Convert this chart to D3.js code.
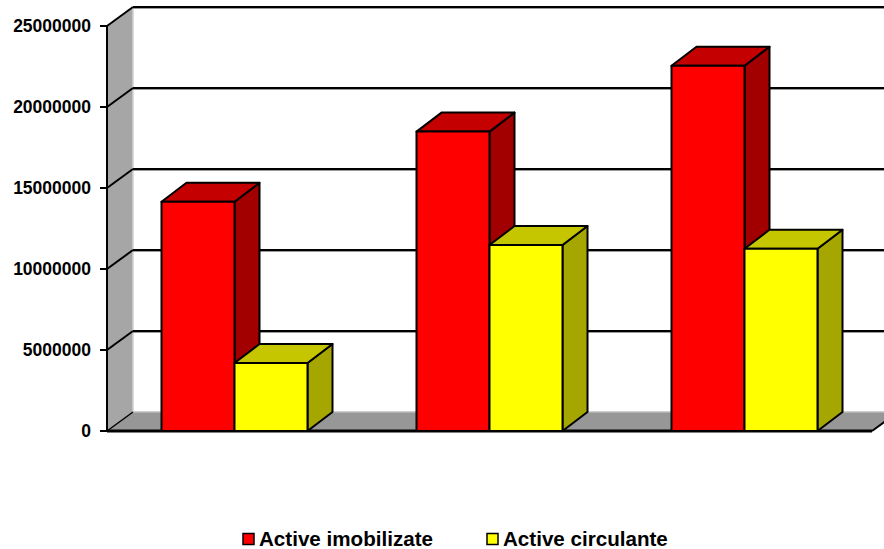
<!DOCTYPE html>
<html>
<head>
<meta charset="utf-8">
<script src="https://cdn.jsdelivr.net/npm/d3@7/dist/d3.min.js"></script>
<style>
  html, body { margin: 0; padding: 0; background: #fff; }
  svg { display: block; font-family: Arial, "Liberation Sans", sans-serif; }
</style>
</head>
<body>
<svg id="chart" width="884" height="549"></svg>
<script>
// Data
const categories = ["Anul 1", "Anul 2", "Anul 3"];
const seriesNames = ["Active imobilizate", "Active circulante"];
const activeImobilizate = [14150000, 18480000, 22550000];
const activeCirculante = [4200000, 11480000, 11250000];
const yTicks = [0, 5000000, 10000000, 15000000, 20000000, 25000000];

// Colours per series: front, top, side
const palette = [
  { front: "#FF0000", top: "#C40000", side: "#A20000", key: "#FF0000" },
  { front: "#FFFF00", top: "#C6C600", side: "#A6A600", key: "#FFFF00" }
];

const svg = d3.select("#chart");

// Geometry of the 3D box
const left = 107, right = 872, base = 431, topY = 26;
const dx = 26, dy = -19;       // depth offset of the back wall
const bdx = 25, bdy = -19;     // depth offset of a bar

const y = d3.scaleLinear().domain([0, 25000000]).range([base, topY]);
const x0 = d3.scaleBand().domain(categories).range([left, right]);
const barW = 73;
const x1 = d3.scaleBand().domain(seriesNames)
  .range([x0.bandwidth() / 2 - barW, x0.bandwidth() / 2 + barW]);

const rows = categories.map((c, i) => ({
  cat: c,
  vals: [activeImobilizate[i], activeCirculante[i]]
}));

const line = d3.line();

// Left side wall
svg.append("path")
  .attr("d", line([[left, base], [left, y(25000000)], [left + dx, y(25000000) + dy], [left + dx, base + dy]]) + "Z")
  .attr("fill", "#A6A6A6");
svg.append("line")
  .attr("x1", left + dx).attr("x2", left + dx)
  .attr("y1", y(25000000) + dy).attr("y2", base + dy)
  .attr("stroke", "#D0D0D0").attr("stroke-width", 1.5);

// Floor
svg.append("path")
  .attr("d", line([[left, base], [right, base], [right + dx, base + dy], [left + dx, base + dy]]) + "Z")
  .attr("fill", "#979797");
svg.append("line")
  .attr("x1", left + dx).attr("x2", 900)
  .attr("y1", base + dy).attr("y2", base + dy)
  .attr("stroke", "#BDBDBD").attr("stroke-width", 1.5);

// Gridlines: back wall and side wall
const gridTicks = yTicks.filter(t => t > 0);
const grid = svg.append("g");
gridTicks.forEach(t => {
  const yy = y(t);
  grid.append("line")
    .attr("x1", left + dx).attr("x2", 900)
    .attr("y1", yy + dy + 1.5).attr("y2", yy + dy + 1.5)
    .attr("stroke", "#9a9a9a").attr("stroke-width", 1);
  grid.append("line")
    .attr("x1", left + dx).attr("x2", 900)
    .attr("y1", yy + dy).attr("y2", yy + dy)
    .attr("stroke", "#000").attr("stroke-width", 2);
  grid.append("line")
    .attr("x1", left).attr("x2", left + dx)
    .attr("y1", yy).attr("y2", yy + dy)
    .attr("stroke", "#000").attr("stroke-width", 2);
});
// Floor corner on the side wall
grid.append("line")
  .attr("x1", left).attr("x2", left + dx)
  .attr("y1", base).attr("y2", base + dy)
  .attr("stroke", "#000").attr("stroke-width", 1.5);

// Floor front edge and right edge
svg.append("line")
  .attr("x1", left).attr("x2", right)
  .attr("y1", base).attr("y2", base)
  .attr("stroke", "#000").attr("stroke-width", 3);
svg.append("line")
  .attr("x1", right).attr("x2", right + dx)
  .attr("y1", base).attr("y2", base + dy)
  .attr("stroke", "#000").attr("stroke-width", 2);

// Value axis
svg.append("line")
  .attr("x1", left).attr("x2", left)
  .attr("y1", y(25000000)).attr("y2", base)
  .attr("stroke", "#000").attr("stroke-width", 2);
const axis = svg.append("g");
yTicks.forEach(t => {
  axis.append("line")
    .attr("x1", left - 7).attr("x2", left)
    .attr("y1", y(t)).attr("y2", y(t))
    .attr("stroke", "#000").attr("stroke-width", 2);
  axis.append("text")
    .attr("x", 91).attr("y", y(t))
    .attr("dy", "0.36em")
    .attr("text-anchor", "end")
    .attr("font-size", "17.5px")
    .attr("font-weight", "bold")
    .attr("fill", "#000")
    .text(d3.format("d")(t));
});

// Bars
const bars = svg.append("g")
  .attr("stroke", "#000").attr("stroke-width", 2).attr("stroke-linejoin", "round");
rows.forEach(r => {
  r.vals.forEach((v, si) => {
    const xl = x0(r.cat) + x1(seriesNames[si]);
    const xr = xl + x1.bandwidth();
    const yt = y(v), yb = y(0);
    const c = palette[si];
    const g = bars.append("g");
    g.append("path")
      .attr("d", line([[xr, yt], [xr + bdx, yt + bdy], [xr + bdx, yb + bdy], [xr, yb]]) + "Z")
      .attr("fill", c.side);
    g.append("path")
      .attr("d", line([[xl, yt], [xl + bdx, yt + bdy], [xr + bdx, yt + bdy], [xr, yt]]) + "Z")
      .attr("fill", c.top);
    g.append("rect")
      .attr("x", xl).attr("y", yt)
      .attr("width", xr - xl).attr("height", yb - yt)
      .attr("fill", c.front);
  });
});

// Legend
const legendX = [243, 487];
const legend = svg.append("g");
seriesNames.forEach((name, i) => {
  legend.append("rect")
    .attr("x", legendX[i]).attr("y", 533.5)
    .attr("width", 11).attr("height", 11)
    .attr("fill", palette[i].key)
    .attr("stroke", "#000").attr("stroke-width", 1.5);
  legend.append("text")
    .attr("x", legendX[i] + 16).attr("y", 546)
    .attr("font-size", "20.6px")
    .attr("font-weight", "bold")
    .attr("fill", "#000")
    .text(name);
});
</script>
</body>
</html>
